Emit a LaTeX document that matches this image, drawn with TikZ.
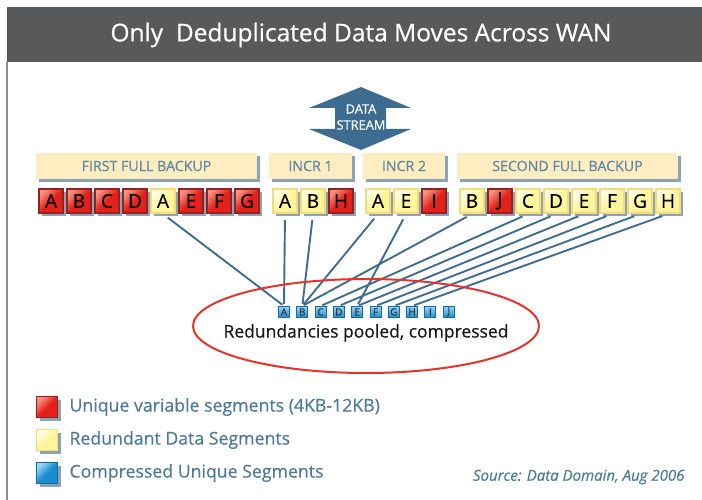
\documentclass[tikz,border=0pt]{standalone}
\usepackage{fontspec}
\setmainfont{Open Sans}[RawFeature={embolden=0.6}]
\usetikzlibrary{shadows}
\definecolor{titlebg}{HTML}{58595B}
\definecolor{steel}{HTML}{3F6D8F}
\definecolor{arrowc}{HTML}{3E6C91}
\definecolor{labelfill}{HTML}{FDEDC0}
\definecolor{labeltext}{HTML}{6289A6}
\definecolor{shadowc}{HTML}{8AA3B7}
\definecolor{redfill}{HTML}{E5211C}
\definecolor{redlight}{HTML}{F69080}
\definecolor{redborder}{HTML}{932220}
\definecolor{yelfill}{HTML}{FFF59A}
\definecolor{yellight}{HTML}{FFFDE6}
\definecolor{yelborder}{HTML}{F7DA7A}
\definecolor{bluefill}{HTML}{1A8DCF}
\definecolor{bluelight}{HTML}{9AD3F2}
\definecolor{blueborder}{HTML}{0B6EA6}
\definecolor{ellred}{HTML}{E6342A}
\definecolor{legtext}{HTML}{4F7B9A}
\definecolor{framec}{HTML}{8C8C8C}
\begin{document}
\begin{tikzpicture}[x=1pt,y=-1pt,
  shad/.style={general shadow={fill=shadowc, shadow xshift=3pt, shadow yshift=-3pt}},
  lbl/.style={shad, fill=labelfill, text=labeltext, minimum height=26pt, inner sep=0pt,
    font=\fontsize{14.2}{16}\selectfont},
  seg/.style={shad, minimum size=24.4pt, inner sep=0pt, line width=1.6pt,
    font=\fontsize{19}{20}\selectfont, text=black},
  segred/.style={seg, draw=redborder, top color=redlight, bottom color=redfill, middle color=redfill, shading angle=45},
  segyel/.style={seg, draw=yelborder, top color=yellight, bottom color=yelfill, middle color=yelfill, shading angle=45},
  cseg/.style={minimum size=11pt, inner sep=0pt, line width=1pt, draw=blueborder,
    top color=bluelight, bottom color=bluefill, shading angle=0,
    font=\fontsize{10}{10}\selectfont, text=black!80},
  legbox/.style={shad, minimum size=21pt, inner sep=0pt, line width=1.6pt},
  legtxt/.style={anchor=west, text=legtext, font=\fontsize{17.7}{19}\selectfont},
  conn/.style={draw=steel, line width=1.9pt, shorten <=6pt, shorten >=2pt}
]
\useasboundingbox (0,0) rectangle (702,500);
% title bar and frame
\fill[titlebg] (7,7) rectangle (702,62);
\node[text=white, font=\fontsize{24.5}{26}\selectfont] (title) at (361,35) {Only\ \ Deduplicated Data Moves Across WAN};
\draw[framec, line width=1.2pt] (7,62) -- (7,500);
% data stream arrow
\fill[arrowc] (361,87) -- (411,108) -- (386,108) -- (386,129) -- (411,129) -- (361,150)
  -- (309,129) -- (335,129) -- (335,108) -- (309,108) -- cycle;
\node[text=white, align=center, font=\fontsize{12.8}{16}\selectfont] (ds) at (361,117) {DATA\\STREAM};
% group labels
\node[lbl, minimum width=221pt] (l1) at (146.5,166) {FIRST FULL BACKUP};
\node[lbl, minimum width=83pt] (l2) at (310.5,166) {INCR 1};
\node[lbl, minimum width=82pt] (l3) at (404,166) {INCR 2};
\node[lbl, minimum width=221pt] (l4) at (567.5,166) {SECOND FULL BACKUP};
% first full backup
\node[segred] (f1) at (51,201) {A};
\node[segred] (f2) at (79,201) {B};
\node[segred] (f3) at (107,201) {C};
\node[segred] (f4) at (135,201) {D};
\node[segyel] (f5) at (163,201) {A};
\node[segred] (f6) at (191,201) {E};
\node[segred] (f7) at (219,201) {F};
\node[segred] (f8) at (247,201) {G};
% incr 1
\node[segyel] (a1) at (285,201) {A};
\node[segyel] (a2) at (313,201) {B};
\node[segred] (a3) at (341,201) {H};
% incr 2
\node[segyel] (b1) at (378,201) {A};
\node[segyel] (b2) at (406,201) {E};
\node[segred] (b3) at (434,201) {I};
% second full backup
\node[segyel] (s1) at (472,201) {B};
\node[segred] (s2) at (500,201) {J};
\node[segyel] (s3) at (528,201) {C};
\node[segyel] (s4) at (556,201) {D};
\node[segyel] (s5) at (584,201) {E};
\node[segyel] (s6) at (612,201) {F};
\node[segyel] (s7) at (640,201) {G};
\node[segyel] (s8) at (668,201) {H};
% compressed segments
\node[cseg] (cA) at (284,312) {A};
\node[cseg] (cB) at (302.3,312) {B};
\node[cseg] (cC) at (320.6,312) {C};
\node[cseg] (cD) at (338.9,312) {D};
\node[cseg] (cE) at (357.2,312) {E};
\node[cseg] (cF) at (375.5,312) {F};
\node[cseg] (cG) at (393.8,312) {G};
\node[cseg] (cH) at (412.1,312) {H};
\node[cseg] (cI) at (430.4,312) {I};
\node[cseg] (cJ) at (448.7,312) {J};
% connectors
\draw[conn] (f5.south) -- (cA.north);
\draw[conn] (a1.south) -- (cA.north);
\draw[conn] (a2.south) -- (cB.north);
\draw[conn] (b1.south) -- (cB.north);
\draw[conn] (b2.south) -- (cE.north);
\draw[conn] (s1.south) -- (cB.north);
\draw[conn] (s3.south) -- (cC.north);
\draw[conn] (s4.south) -- (cD.north);
\draw[conn] (s5.south) -- (cE.north);
\draw[conn] (s6.south) -- (cF.north);
\draw[conn] (s7.south) -- (cG.north);
\draw[conn] (s8.south) -- (cH.north);
% pool ellipse
\draw[ellred, line width=2pt] (366,326) ellipse [x radius=173, y radius=47];
\node[text=black!90, font=\fontsize{17.5}{19}\selectfont] (pool) at (366,333) {Redundancies pooled, compressed};
% legend
\node[legbox, draw=redborder, top color=redlight, bottom color=redfill, middle color=redfill, shading angle=45] (k1) at (47,407) {};
\node[legbox, draw=yelborder, top color=yellight, bottom color=yelfill, middle color=yelfill, shading angle=45] (k2) at (47,440) {};
\node[legbox, draw=blueborder, top color=bluelight, bottom color=bluefill, middle color=bluefill, shading angle=45] (k3) at (47,473) {};
\node[legtxt] (t1) at (66,407) {Unique variable segments (4KB-12KB)};
\node[legtxt] (t2) at (66,440) {Redundant Data Segments};
\node[legtxt] (t3) at (66,473) {Compressed Unique Segments};
\node[anchor=east, text=legtext, font=\itshape\fontsize{15}{17}\selectfont] (src) at (688,477) {Source: Data Domain, Aug 2006};
\end{tikzpicture}
\end{document}
